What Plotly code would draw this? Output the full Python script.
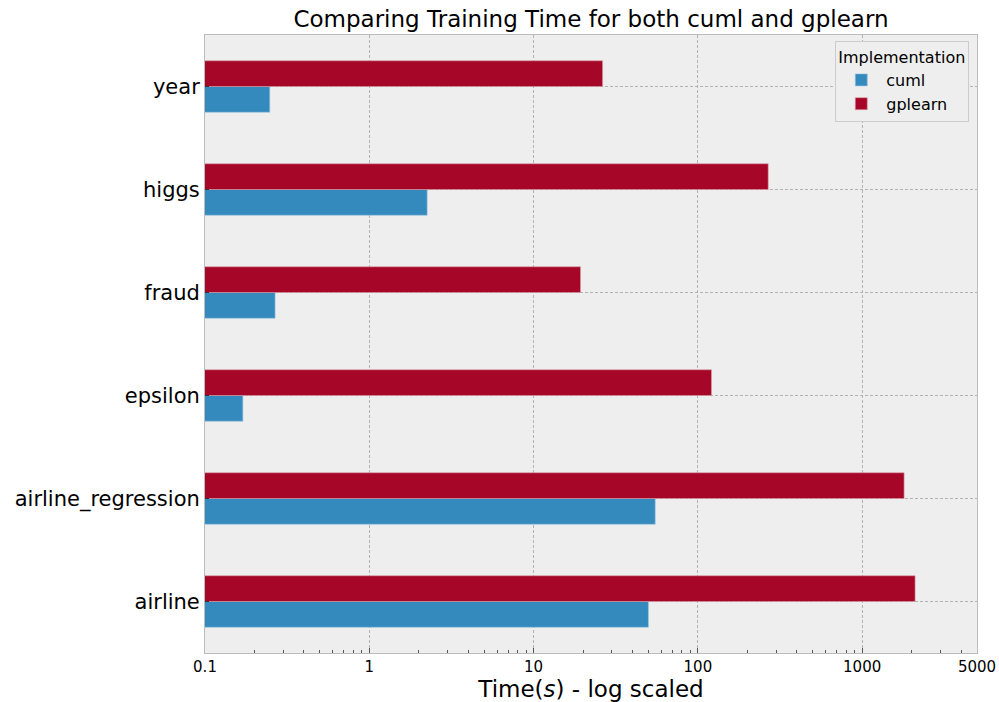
import plotly.graph_objects as go

categories = ["airline", "airline_regression", "epsilon", "fraud", "higgs", "year"]
cuml_times = [50.0, 55.0, 0.17, 0.267, 2.25, 0.248]
gplearn_times = [2100.0, 1800.0, 121.0, 19.3, 268.0, 26.3]
x_tick_vals = [0.1, 1, 10, 100, 1000, 5000]
x_tick_text = ["0.1", "1", "10", "100", "1000", "5000"]
minor_tick_vals = [m * 10 ** e for e in range(-1, 4) for m in range(2, 10) if m * 10 ** e <= 5000]

FONT = "DejaVu Sans"

fig = go.Figure()
fig.add_trace(go.Bar(
    y=categories, x=cuml_times, orientation="h", name="cuml",
    marker=dict(color="#348ABD", line=dict(color="#9cc3df", width=0.6)),
))
fig.add_trace(go.Bar(
    y=categories, x=gplearn_times, orientation="h", name="gplearn",
    marker=dict(color="#A60628", line=dict(color="#d9a0a8", width=0.6)),
))

fig.update_layout(
    width=999, height=702,
    paper_bgcolor="white",
    plot_bgcolor="#EEEEEE",
    barmode="group",
    bargap=0.5,
    bargroupgap=0,
    margin=dict(l=205, r=22, t=35, b=49, autoexpand=False),
    font=dict(family=FONT, color="black"),
    title=dict(text="Comparing Training Time for both cuml and gplearn",
               x=0.5916, xanchor="center", y=0.973, yanchor="middle",
               font=dict(size=23, family=FONT)),
    legend=dict(
        title=dict(text="Implementation", font=dict(size=16)),
        x=0.99, y=0.99, xanchor="right", yanchor="top",
        bgcolor="#EEEEEE", bordercolor="#cccccc", borderwidth=1,
        font=dict(size=16), traceorder="normal",
        itemwidth=40,
    ),
    xaxis=dict(
        type="log",
        range=[-1, 3.69897],
        tickvals=x_tick_vals, ticktext=x_tick_text,
        tickfont=dict(size=15),
        title=dict(text="Time(<i>s</i>) - log scaled", font=dict(size=23), standoff=11),
        showgrid=True, gridcolor="#b2b2b2", griddash="3px,2px", gridwidth=0.8,
        ticks="inside", ticklen=5, tickcolor="#555555",
        minor=dict(tickmode="array", tickvals=minor_tick_vals,
                   ticks="inside", ticklen=3, tickcolor="#555555", showgrid=False),
        showline=True, linecolor="#bcbcbc", mirror=True, linewidth=1,
        zeroline=False,
    ),
    yaxis=dict(
        type="category",
        categoryorder="array", categoryarray=categories,
        range=[-0.5, 5.5],
        tickfont=dict(size=21),
        showgrid=True, gridcolor="#b2b2b2", griddash="3px,2px", gridwidth=0.8,
        ticks="inside", ticklen=4, tickcolor="#333333",
        showline=True, linecolor="#bcbcbc", mirror=True, linewidth=1,
        zeroline=False,
    ),
)

fig.write_html("out.html", config={"displayModeBar": False},
               post_script="document.body.style.margin='0';document.body.style.overflow='hidden';")
